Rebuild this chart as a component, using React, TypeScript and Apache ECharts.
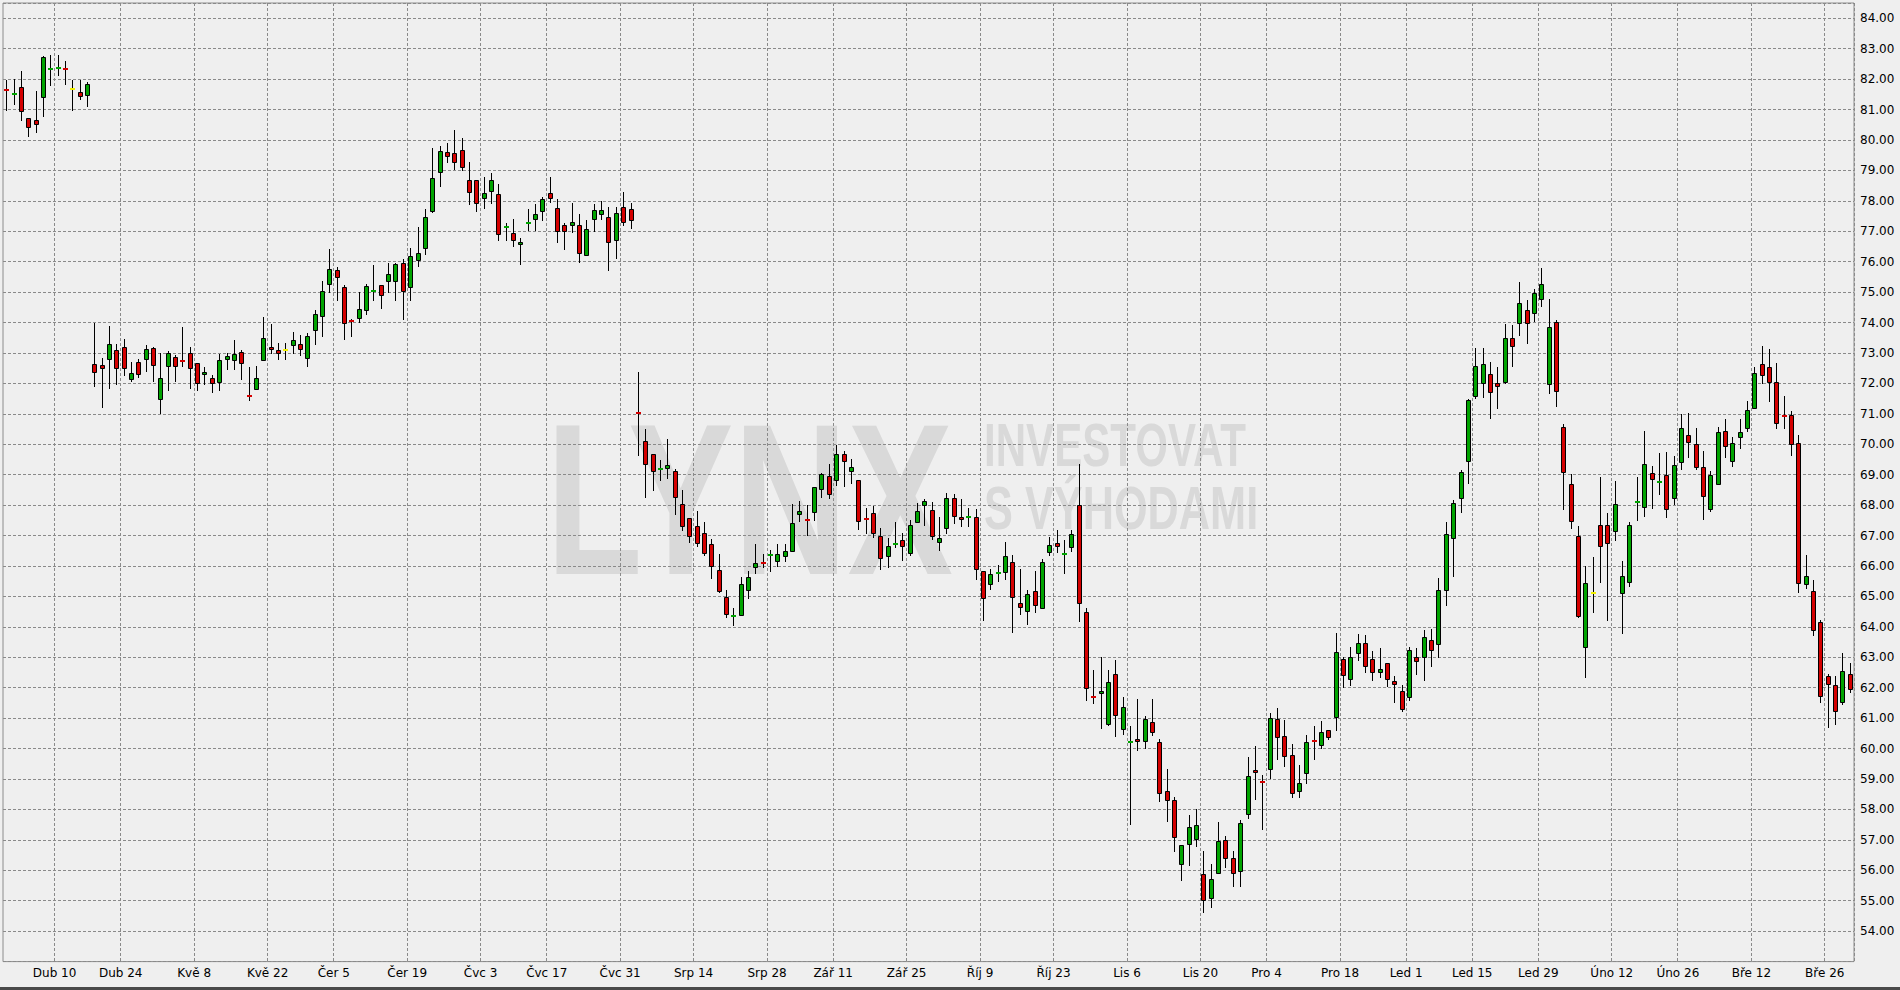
import React, { useEffect, useRef } from 'react';
import * as echarts from 'echarts';

// ---- calendar (trading days) ----
const START_DATE = '2017-03-30';
const END_DATE = '2018-03-29';
const HOLIDAYS = ['2017-04-14', '2017-05-29', '2017-07-04', '2017-09-04', '2017-11-23', '2017-12-25', '2018-01-01', '2018-01-15', '2018-02-19'];

// ---- x-axis tick labels ----
const TICK_DATES = ['2017-04-10', '2017-04-24', '2017-05-08', '2017-05-22', '2017-06-05', '2017-06-19', '2017-07-03', '2017-07-17', '2017-07-31', '2017-08-14', '2017-08-28', '2017-09-11', '2017-09-25', '2017-10-09', '2017-10-23', '2017-11-06', '2017-11-20', '2017-12-04', '2017-12-18', '2018-01-01', '2018-01-15', '2018-01-29', '2018-02-12', '2018-02-26', '2018-03-12', '2018-03-26'];
const TICK_LABELS = ['Dub 10', 'Dub 24', 'Kvě 8', 'Kvě 22', 'Čer 5', 'Čer 19', 'Čvc 3', 'Čvc 17', 'Čvc 31', 'Srp 14', 'Srp 28', 'Zář 11', 'Zář 25', 'Říj 9', 'Říj 23', 'Lis 6', 'Lis 20', 'Pro 4', 'Pro 18', 'Led 1', 'Led 15', 'Led 29', 'Úno 12', 'Úno 26', 'Bře 12', 'Bře 26'];

// ---- OHLC values ----
const OPEN = [
  81.66, 81.50, 81.73, 80.73, 80.66, 81.42, 82.32, 82.36, 82.34, 81.67, 81.56, 81.48,
  72.63, 72.60, 72.79, 73.10, 73.20, 72.16, 72.70, 72.79, 73.16, 71.49, 72.56, 72.87, 72.75, 73.00, 72.67, 72.30, 72.17, 72.06,
  72.79, 72.78, 73.03, 71.59, 71.80, 72.77, 73.19, 73.10, 73.09, 73.26, 73.30, 72.83, 73.74, 74.22, 75.26, 75.72, 75.16, 74.05,
  74.15, 74.41, 75.03, 75.23, 75.38, 75.38, 75.94, 75.18, 76.07, 76.46, 77.67, 78.94, 79.62, 79.56, 79.68, 78.69, 78.69, 78.09,
  78.33, 78.24, 77.14, 76.93, 76.58, 77.27, 77.41, 77.65, 78.27, 77.76, 77.20, 77.19, 77.20, 76.23, 77.40, 77.56, 77.46, 76.72,
  77.80, 77.73,
  71.03, 70.12, 69.69, 69.18, 69.23, 69.13, 68.03, 67.57, 67.33, 67.07, 66.71, 65.86, 64.98, 64.34, 64.40, 65.21, 65.96, 66.12,
  66.36, 66.18, 66.34, 66.48, 67.70, 67.53, 67.76, 68.52, 68.97, 68.84, 69.69, 69.13, 68.84, 67.56, 67.74, 67.00, 66.34, 66.72,
  66.87, 66.43, 67.43, 67.99, 67.83, 66.78, 67.24, 68.22, 67.60, 67.60, 67.60, 65.83, 65.40, 65.77, 65.79, 66.12, 64.78, 64.52,
  65.17, 64.62, 66.45, 66.75, 66.38, 66.61, 67.99, 64.49, 61.70, 61.81, 60.82, 62.44, 60.64, 60.20, 60.33, 60.26, 60.87, 60.20,
  58.59, 58.30, 56.20, 56.86, 57.04, 55.88, 55.08, 55.90, 56.99, 56.40, 55.98, 57.84, 59.29, 58.92, 59.33, 60.98, 60.41, 59.79,
  58.60, 59.20, 60.26, 60.13, 60.60, 61.03, 62.94, 62.28, 63.13, 63.47, 62.94, 62.50, 62.80, 62.23, 61.90, 61.71, 63.00, 63.00,
  63.57, 63.43, 65.20, 66.93, 68.23, 69.46, 71.60, 72.00, 72.30, 72.00, 72.05, 73.49, 74.00, 74.42, 74.30, 74.77, 71.97, 74.03,
  70.58, 68.69, 66.98, 63.33, 65.12, 67.34, 67.34, 67.14, 65.11, 65.47, 68.08, 67.94, 69.05, 68.75, 68.99, 68.23, 69.41, 70.29,
  70.00, 69.25, 67.86, 68.69, 70.45, 69.44, 70.23, 70.52, 71.19, 72.63, 72.55, 72.03, 70.93, 70.97, 70.03, 65.40, 65.17, 64.15,
  62.38, 62.09, 61.52, 62.45
];
const HIGH = [
  81.98, 82.00, 82.27, 80.73, 81.61, 82.75, 82.78, 82.78, 82.59, 81.98, 81.98, 81.92,
  74.00, 72.83, 73.89, 73.29, 73.47, 72.71, 72.80, 73.27, 73.21, 73.00, 73.08, 72.94, 73.86, 73.21, 72.67, 72.54, 72.28, 72.97,
  73.00, 73.42, 73.10, 72.54, 72.57, 74.19, 73.96, 73.34, 73.34, 73.68, 73.58, 73.64, 74.41, 75.35, 76.41, 75.83, 75.24, 74.11,
  75.01, 75.27, 75.88, 75.23, 75.94, 75.96, 76.08, 76.46, 77.13, 77.74, 79.72, 79.79, 79.91, 80.33, 80.07, 79.28, 78.69, 78.78,
  78.90, 78.55, 77.27, 77.40, 76.78, 77.74, 77.90, 78.13, 78.78, 78.07, 77.27, 77.92, 77.56, 77.37, 77.90, 77.98, 77.80, 77.80,
  78.30, 77.92,
  72.37, 70.49, 69.69, 69.47, 70.16, 69.20, 68.50, 67.57, 67.81, 67.46, 66.90, 66.39, 65.22, 64.63, 65.64, 65.85, 66.72, 66.39,
  66.52, 66.72, 66.72, 68.04, 68.13, 68.00, 68.59, 69.07, 69.36, 69.97, 69.77, 69.52, 68.84, 67.92, 67.98, 67.26, 66.91, 67.43,
  67.08, 67.50, 68.07, 68.20, 68.10, 67.60, 68.39, 68.35, 68.20, 67.92, 67.86, 65.83, 65.89, 66.02, 66.79, 66.35, 65.90, 65.22,
  65.84, 66.23, 66.95, 67.18, 66.86, 67.18, 69.36, 64.62, 62.58, 63.00, 62.58, 62.91, 61.71, 60.75, 61.63, 61.07, 61.63, 60.31,
  59.34, 58.40, 56.83, 57.82, 58.00, 56.62, 56.22, 57.59, 57.13, 56.64, 57.65, 59.73, 60.08, 59.14, 61.16, 61.33, 60.95, 60.14,
  59.46, 60.43, 60.75, 60.90, 60.60, 63.80, 63.01, 63.34, 63.78, 63.74, 63.21, 63.30, 62.80, 62.40, 62.10, 63.33, 63.30, 63.90,
  63.94, 65.60, 67.43, 68.16, 69.14, 71.50, 73.16, 73.16, 72.70, 72.53, 73.96, 73.91, 75.33, 74.75, 75.10, 75.78, 74.77, 74.07,
  70.65, 69.01, 67.30, 66.01, 66.31, 68.92, 67.75, 68.80, 66.15, 67.44, 68.92, 70.44, 69.30, 69.72, 69.75, 69.62, 71.00, 71.04,
  70.52, 69.78, 69.13, 70.58, 70.84, 70.25, 70.84, 71.41, 72.54, 73.24, 73.13, 72.67, 71.57, 71.08, 70.30, 66.37, 65.53, 64.24,
  62.45, 62.40, 63.13, 62.80
];
const LOW = [
  81.00, 81.17, 80.67, 80.12, 80.25, 80.80, 81.81, 82.14, 81.84, 80.97, 81.34, 81.13,
  71.92, 71.24, 71.86, 71.98, 72.28, 72.08, 72.21, 72.42, 72.08, 71.04, 71.78, 72.08, 72.56, 71.84, 71.78, 71.99, 71.71, 71.78,
  72.48, 72.48, 72.14, 71.44, 71.80, 72.76, 73.00, 72.81, 72.81, 73.00, 72.92, 72.56, 73.28, 73.57, 75.00, 74.75, 73.46, 73.56,
  74.03, 74.28, 74.75, 74.49, 75.00, 74.75, 74.11, 74.75, 75.86, 76.24, 77.63, 78.49, 79.28, 79.06, 79.02, 77.89, 77.68, 77.77,
  77.93, 76.72, 76.70, 76.52, 75.92, 77.04, 77.04, 77.38, 77.95, 76.66, 76.40, 76.98, 75.99, 76.23, 77.02, 77.40, 75.72, 76.12,
  77.22, 77.10,
  69.64, 68.28, 68.51, 68.83, 68.89, 67.72, 67.19, 66.79, 66.67, 66.37, 65.59, 65.14, 64.32, 64.05, 64.38, 64.94, 65.78, 65.96,
  65.85, 66.01, 66.16, 66.48, 67.47, 67.01, 67.51, 68.28, 68.22, 68.67, 68.64, 68.74, 67.22, 67.08, 66.96, 65.91, 65.98, 66.61,
  66.20, 66.37, 67.43, 67.36, 66.90, 66.53, 67.10, 67.42, 67.33, 67.30, 65.56, 64.22, 65.23, 65.52, 65.56, 63.83, 64.41, 64.09,
  64.48, 64.62, 66.37, 66.47, 65.78, 66.50, 64.18, 61.60, 61.50, 60.66, 60.78, 60.40, 60.48, 57.51, 59.96, 60.01, 60.44, 58.28,
  57.62, 56.64, 55.67, 56.18, 56.80, 54.64, 54.80, 55.90, 56.10, 55.47, 55.47, 57.73, 58.34, 57.37, 59.02, 59.66, 59.42, 58.42,
  58.42, 58.87, 59.66, 60.03, 60.32, 60.62, 62.03, 62.09, 62.92, 62.50, 62.25, 62.36, 62.06, 61.53, 61.25, 61.60, 62.46, 62.26,
  62.70, 63.00, 64.73, 65.67, 67.76, 68.73, 71.53, 71.56, 70.85, 71.19, 72.00, 72.56, 73.59, 73.33, 74.04, 74.54, 71.67, 71.25,
  67.86, 67.25, 64.33, 62.36, 64.50, 65.46, 64.22, 66.84, 63.80, 65.33, 67.52, 67.63, 67.90, 68.36, 67.61, 68.04, 69.18, 69.57,
  69.18, 67.54, 67.80, 68.69, 69.57, 69.27, 69.89, 70.45, 71.19, 72.00, 71.42, 70.53, 70.53, 69.65, 65.13, 65.29, 63.72, 61.52,
  60.72, 60.80, 61.45, 61.85
];
const CLOSE = [
  81.64, 81.52, 80.95, 80.42, 80.53, 82.71, 82.34, 82.38, 82.32, 81.67, 81.45, 81.83,
  72.39, 72.52, 73.29, 72.52, 72.50, 72.33, 72.32, 73.13, 72.59, 72.17, 73.00, 72.56, 72.73, 72.49, 72.02, 72.38, 72.00, 72.77,
  72.90, 72.98, 72.66, 71.57, 72.17, 73.50, 73.12, 73.00, 73.09, 73.43, 73.12, 73.56, 74.28, 75.03, 75.77, 75.48, 73.97, 74.03,
  74.46, 75.20, 75.05, 74.92, 75.58, 75.91, 75.02, 76.20, 76.29, 77.47, 78.74, 79.65, 79.48, 79.27, 79.10, 78.30, 77.94, 78.27,
  78.69, 76.90, 77.16, 76.70, 76.64, 77.29, 77.56, 78.07, 78.09, 77.00, 77.02, 77.30, 76.30, 77.07, 77.70, 77.70, 76.63, 77.60,
  77.30, 77.37,
  71.01, 69.36, 69.13, 69.20, 69.33, 68.26, 67.33, 66.99, 66.76, 66.43, 66.01, 65.17, 64.42, 64.36, 65.40, 65.63, 66.09, 66.10,
  66.38, 66.38, 66.48, 67.42, 67.80, 67.51, 68.59, 69.03, 68.37, 69.69, 69.46, 69.26, 67.48, 67.54, 67.07, 66.27, 66.67, 66.74,
  66.66, 67.34, 67.80, 68.13, 66.97, 66.91, 68.22, 67.63, 67.53, 67.62, 65.89, 64.95, 65.75, 65.79, 66.32, 64.98, 64.65, 65.08,
  64.71, 66.12, 66.68, 66.67, 66.40, 67.04, 64.78, 62.00, 61.68, 61.88, 62.18, 61.09, 61.35, 60.22, 60.26, 60.97, 60.55, 58.55,
  58.32, 57.08, 56.83, 57.41, 57.48, 55.01, 55.71, 56.97, 56.40, 55.90, 57.54, 59.10, 59.22, 58.90, 61.00, 60.38, 59.75, 58.54,
  58.87, 60.23, 60.24, 60.56, 60.37, 63.16, 62.41, 63.00, 63.47, 62.70, 62.50, 62.63, 62.30, 62.13, 61.29, 63.23, 62.87, 63.67,
  63.24, 65.20, 67.06, 68.06, 69.10, 71.47, 72.57, 72.63, 71.73, 71.93, 73.49, 73.22, 74.65, 74.00, 74.98, 75.27, 73.84, 71.75,
  69.08, 67.47, 64.35, 65.44, 65.12, 66.65, 66.75, 68.03, 65.66, 67.34, 68.10, 69.35, 68.85, 68.77, 67.88, 69.32, 70.55, 70.06,
  69.25, 68.30, 69.00, 70.39, 69.93, 70.03, 70.39, 71.13, 72.33, 72.28, 72.05, 70.70, 70.91, 70.00, 65.43, 65.67, 63.90, 61.73,
  62.12, 61.23, 62.55, 61.96
];

const UP = '#00a300';
const DOWN = '#d40000';
const FLAT = '#f2f200';
const GRID_LINE = '#8a8a8a';

function tradingDays(): string[] {
  const out: string[] = [];
  const d = new Date(START_DATE + 'T00:00:00Z');
  const end = new Date(END_DATE + 'T00:00:00Z');
  while (d.getTime() <= end.getTime()) {
    const wd = d.getUTCDay();
    const s = d.toISOString().slice(0, 10);
    if (wd !== 0 && wd !== 6 && HOLIDAYS.indexOf(s) < 0) out.push(s);
    d.setUTCDate(d.getUTCDate() + 1);
  }
  return out;
}

export default function App() {
  const ref = useRef<HTMLDivElement>(null);

  useEffect(() => {
    if (!ref.current) return;
    const chart = echarts.init(ref.current, undefined, { renderer: 'svg' });

    const days = tradingDays();
    const tickMap = new Map<number, string>();
    TICK_DATES.forEach((t, k) => {
      const i = days.findIndex((d) => d >= t);
      if (i >= 0) tickMap.set(i, TICK_LABELS[k]);
    });

    const data = days.map((d, i) => [i, OPEN[i], CLOSE[i], LOW[i], HIGH[i]]);

    const renderItem = (params: any, api: any) => {
      const i = api.value(0);
      const o = api.value(1);
      const c = api.value(2);
      const l = api.value(3);
      const h = api.value(4);
      const pO = api.coord([i, o]);
      const pC = api.coord([i, c]);
      const pL = api.coord([i, l]);
      const pH = api.coord([i, h]);
      const cx = Math.floor(pO[0]) + 0.5;
      const color = c > o ? UP : c < o ? DOWN : FLAT;
      const children: any[] = [
        {
          type: 'line',
          shape: { x1: cx, y1: Math.round(pH[1]), x2: cx, y2: Math.round(pL[1]) + 1 },
          style: { stroke: '#000', lineWidth: 1 },
        },
      ];
      if (Math.abs(c - o) < 0.035) {
        const ym = Math.round((pO[1] + pC[1]) / 2);
        children.push({
          type: 'rect',
          shape: { x: cx - 2.5, y: ym - 1, width: 5, height: 2 },
          style: { fill: color },
        });
      } else {
        const top = Math.round(Math.min(pO[1], pC[1])) + 0.5;
        const bot = Math.round(Math.max(pO[1], pC[1])) + 0.5;
        children.push({
          type: 'rect',
          shape: { x: cx - 2, y: top, width: 4, height: Math.max(1, bot - top) },
          style: { fill: color, stroke: '#000', lineWidth: 1 },
        });
      }
      return { type: 'group', children };
    };

    const wmFill = '#d9d9d9';
    const option: any = {
      animation: false,
      backgroundColor: '#efefef',
      textStyle: { fontFamily: 'DejaVu Sans' },
      grid: {
        left: 3,
        top: 3,
        width: 1851,
        height: 958.6,
        show: true,
        borderColor: '#8c8c8c',
        borderWidth: 1,
        backgroundColor: 'transparent',
      },
      xAxis: {
        type: 'category',
        data: days,
        boundaryGap: true,
        axisLine: { show: false },
        axisTick: { show: false },
        axisLabel: {
          interval: (i: number) => tickMap.has(i),
          formatter: (_v: string, i: number) => tickMap.get(i) || '',
          color: '#000',
          fontSize: 12,
          fontFamily: 'DejaVu Sans',
          margin: 5,
          padding: [0, 7, 0, 0],
        },
        splitLine: {
          show: true,
          interval: (i: number) => tickMap.has(i),
          lineStyle: { color: GRID_LINE, type: [3, 2], width: 1 },
        },
      },
      yAxis: {
        type: 'value',
        position: 'right',
        min: 53,
        max: 84.5,
        interval: 1,
        scale: true,
        axisLine: { show: false },
        axisTick: { show: false },
        axisLabel: {
          formatter: (v: number) =>
            Math.abs(v - Math.round(v)) < 1e-6 && v > 53.5 ? v.toFixed(2) : '',
          color: '#000',
          fontSize: 12,
          fontFamily: 'DejaVu Sans',
          margin: 6,
        },
        splitLine: { show: true, lineStyle: { color: GRID_LINE, type: [3, 2], width: 1 } },
      },
      graphic: [
        {
          type: 'text',
          z: -10,
          silent: true,
          x: 546,
          y: 499,
          scaleX: 0.735,
          style: {
            text: 'LYNX',
            font: 'bold 215px "Liberation Sans", Arial, sans-serif',
            fill: wmFill,
            align: 'left',
            verticalAlign: 'middle',
            textAlign: 'left',
            textVerticalAlign: 'middle',
          },
        },
        {
          type: 'text',
          z: -10,
          silent: true,
          x: 984,
          y: 445,
          scaleX: 0.69,
          style: {
            text: 'INVESTOVAT',
            font: 'bold 61px "Liberation Sans", Arial, sans-serif',
            fill: wmFill,
            align: 'left',
            verticalAlign: 'middle',
            textAlign: 'left',
            textVerticalAlign: 'middle',
          },
        },
        {
          type: 'text',
          z: -10,
          silent: true,
          x: 984,
          y: 508,
          scaleX: 0.71,
          style: {
            text: 'S VÝHODAMI',
            font: 'bold 61px "Liberation Sans", Arial, sans-serif',
            fill: wmFill,
            align: 'left',
            verticalAlign: 'middle',
            textAlign: 'left',
            textVerticalAlign: 'middle',
          },
        },
        {
          type: 'rect',
          silent: true,
          shape: { x: 0, y: 987, width: 1900, height: 3 },
          style: { fill: '#4a4a4a' },
        },
      ],
      series: [
        {
          type: 'custom',
          renderItem,
          data,
          encode: { x: 0, y: [1, 2, 3, 4] },
          z: 5,
        },
      ],
    };

    chart.setOption(option);
    return () => chart.dispose();
  }, []);

  return (
    <div
      ref={ref}
      style={{ position: 'absolute', left: 0, top: 0, width: 1900, height: 990 }}
    />
  );
}
